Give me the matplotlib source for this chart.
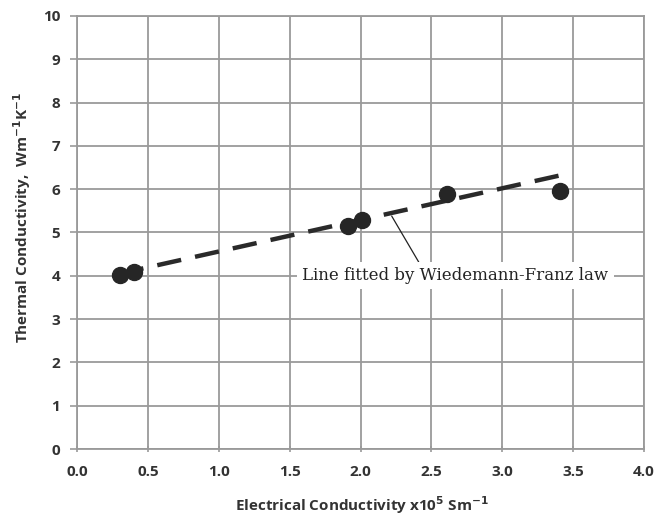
import matplotlib
matplotlib.use("Agg")
import matplotlib.pyplot as plt

# Data
elec_cond = [0.30, 0.40, 1.91, 2.01, 2.61, 3.41]
therm_cond = [4.02, 4.09, 5.16, 5.30, 5.88, 5.96]
fit_x = [0.30, 3.41]
fit_y = [4.05, 6.32]
x_ticks = [0.0, 0.5, 1.0, 1.5, 2.0, 2.5, 3.0, 3.5, 4.0]
x_tick_labels = ["0.0", "0.5", "1.0", "1.5", "2.0", "2.5", "3.0", "3.5", "4.0"]
y_ticks = list(range(0, 11))

fig = plt.figure(figsize=(6.56, 5.24), dpi=100)
ax = fig.add_axes([0.1174, 0.1431, 0.8643, 0.8264])
ax.set_xlim(0, 4)
ax.set_ylim(0, 10)

ax.grid(True, color="#9a9a9a", linewidth=1.3)
ax.set_axisbelow(True)
for s in ax.spines.values():
    s.set_color("#9a9a9a")
    s.set_linewidth(1.3)

ax.plot(fit_x, fit_y, color="#2a2a2a", linewidth=3.2, dashes=(5.5, 3.2), zorder=3)
ax.plot(elec_cond, therm_cond, "o", color="#262626", markersize=11.5, zorder=4)

ax.set_xticks(x_ticks)
ax.set_xticklabels(x_tick_labels)
ax.set_yticks(y_ticks)
ax.tick_params(axis="both", colors="#9a9a9a", labelcolor="#333333", labelsize=11, length=5, width=1.2)
ax.tick_params(axis="x", direction="inout", pad=9)
ax.tick_params(axis="y", direction="out", pad=7)
for lab in ax.get_xticklabels() + ax.get_yticklabels():
    lab.set_fontweight("bold")
    lab.set_family("Open Sans")

ax.annotate("Line fitted by Wiedemann-Franz law", xy=(2.22, 5.38), xytext=(2.67, 4.0),
            ha="center", va="center", fontsize=12, family="DejaVu Serif", color="#222222",
            bbox=dict(boxstyle="square,pad=0.3", fc="white", ec="none"),
            arrowprops=dict(arrowstyle="-", color="#222222", lw=0.9, shrinkA=0, shrinkB=0,
                            relpos=(0.39, 1.0)),
            zorder=5)

fig.text(0.552, 0.036, r"Electrical Conductivity x10$^{\mathbf{5}}$ Sm$^{\mathbf{-1}}$",
         ha="center", va="center", fontsize=11, fontweight="bold", family="Open Sans", color="#333333")
fig.text(0.034, 0.585, r"Thermal Conductivity,  Wm$^{\mathbf{-1}}$K$^{\mathbf{-1}}$",
         ha="center", va="center", rotation=90, fontsize=11, fontweight="bold", family="Open Sans", color="#333333")

fig.savefig("out.png", dpi=100)
